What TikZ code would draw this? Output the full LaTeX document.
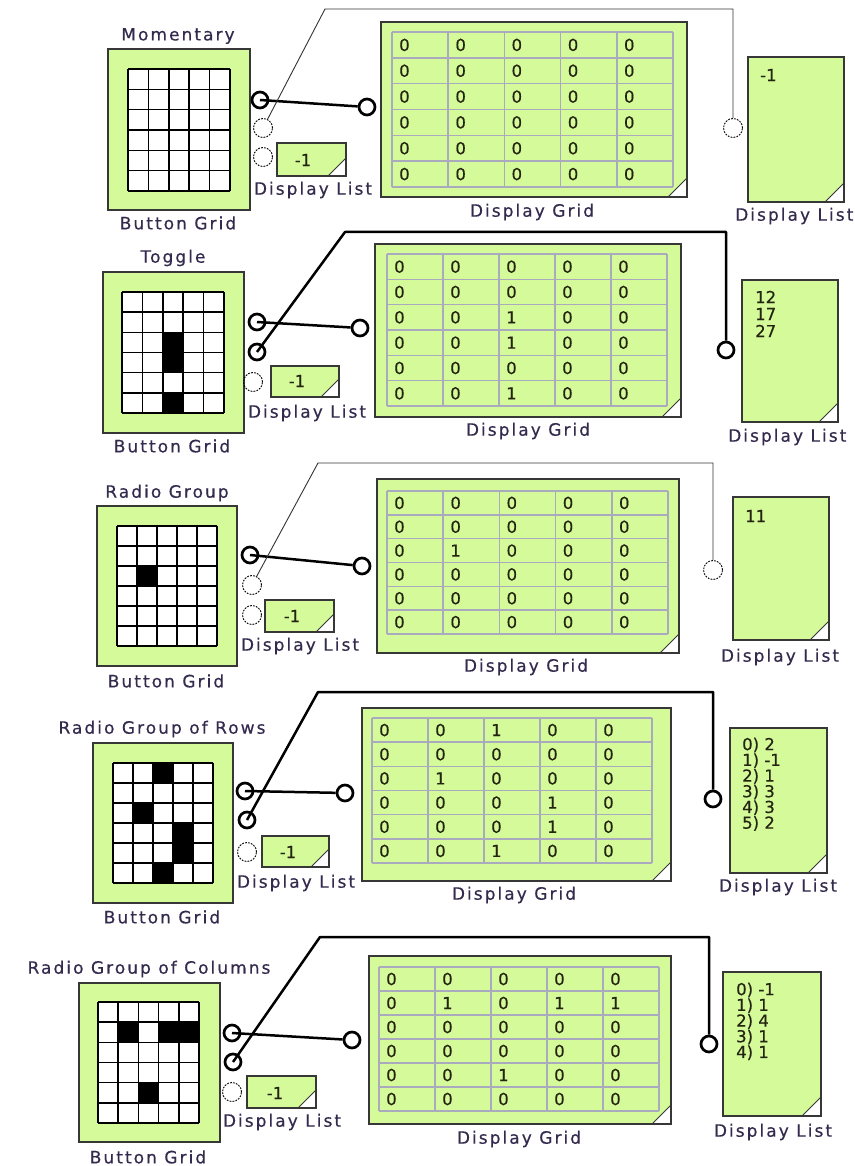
\documentclass[tikz,border=0pt]{standalone}
\usepackage{fontspec}
\newfontfamily\labfont[LetterSpace=12,FakeBold=0.4]{DejaVu Sans}
\newfontfamily\numfont[FakeBold=0.4]{DejaVu Sans}
\definecolor{gfill}{RGB}{212,250,154}
\definecolor{bord}{RGB}{55,55,55}
\definecolor{glc}{RGB}{170,170,190}
\definecolor{labc}{RGB}{52,42,78}
\definecolor{digc}{RGB}{35,35,15}
\newcommand\labsize{\labfont\fontsize{17}{20}\selectfont}
\newcommand\numsize{\numfont\fontsize{16.5}{17}\selectfont}
\tikzset{
 lab/.style={font=\labsize, text=labc, inner sep=0pt},
 digit/.style={font=\numsize, text=digc, inner sep=0pt},
 boxg/.style={fill=gfill, draw=bord, line width=1.6pt},
 portc/.style={circle, draw=black, line width=2.7pt, minimum size=16pt, inner sep=0pt},
 portu/.style={circle, draw=black, line width=0.9pt, dash pattern=on 1.8pt off 1.2pt, minimum size=19pt, inner sep=0pt},
 wirethick/.style={draw=black, line width=2.5pt, line join=round},
 wirethin/.style={draw=black!80, line width=0.9pt},
 glines/.style={draw=glc, line width=1.5pt},
 blines/.style={draw=black, line width=1.6pt},
}
\newcommand\BGrid[4]{%
 \foreach \i in {0,...,5} \draw[blines] ({#1+\i*(#3-#1)/5},#2) -- ({#1+\i*(#3-#1)/5},#4);
 \foreach \j in {0,...,6} \draw[blines] (#1,{#2+\j*(#4-#2)/6}) -- (#3,{#2+\j*(#4-#2)/6});
}
\newcommand\BFill[5]{\foreach \c/\r in {#5} \fill[black] ({#1+\c*(#3-#1)/5},{#2+\r*(#4-#2)/6}) rectangle ({#1+(\c+1)*(#3-#1)/5},{#2+(\r+1)*(#4-#2)/6});}
\newcommand\Note[5]{%
 \fill[gfill] (#1,#2) rectangle (#3,#4);
 \fill[white] ({#3-#5},#4) -- (#3,{#4-#5}) -- (#3,#4) -- cycle;
 \draw[bord, line width=1pt] ({#3-#5},#4) -- (#3,{#4-#5});
 \draw[bord, line width=1.6pt] (#1,#2) rectangle (#3,#4);
}
\newcommand\DGrid[6]{%
 \foreach \i in {0,...,5} \draw[glines] ({#1+\i*(#3-#1)/5},#2) -- ({#1+\i*(#3-#1)/5},#4);
 \foreach \j in {0,...,6} \draw[glines] (#1,{#2+\j*(#4-#2)/6}) -- (#3,{#2+\j*(#4-#2)/6});
 \foreach \row [count=\ri from 0] in {#5} {
   \foreach \v [count=\ci from 0] in \row {
     \node[digit, anchor=west] (#6-\ri-\ci) at ({#1+\ci*(#3-#1)/5+7},{#2+(\ri+0.5)*(#4-#2)/6}) {\v};
   }
 }
}
\begin{document}
\begin{tikzpicture}[x=1pt,y=-1pt]
\useasboundingbox (0,0) rectangle (854,1166);
\fill[white] (0,0) rectangle (854,1166);

% ================= Panel 1 : Momentary =================
\node[lab] (t1) at (178,36) {Momentary};
\draw[boxg] (108,49) rectangle (250,210);
\fill[white] (128,69) rectangle (230,191);
\BGrid{128}{69}{230}{191}
\node[lab] (b1) at (178,223) {Button Grid};
\Note{277}{143}{346}{176}{18}
\node[digit] (s1t) at (303,160) {-1};
\node[lab] (s1l) at (313,190) {Display List};
\Note{381}{22}{687}{197}{19}
\DGrid{392}{32}{673}{187}{{0,0,0,0,0},{0,0,0,0,0},{0,0,0,0,0},{0,0,0,0,0},{0,0,0,0,0},{0,0,0,0,0}}{ga}
\node[lab] (d1l) at (532,212) {Display Grid};
\Note{748}{57}{844}{202}{19}
\node[digit, anchor=west] (r1t) at (760,75) {-1};
\node[lab, anchor=west] (r1l) at (735,216) {Display List};
\node[portc] (p1a) at (260,100) {};
\node[portu] (p1b) at (263,128) {};
\node[portu] (p1c) at (263,157) {};
\node[portc] (g1in) at (367,107) {};
\node[portu] (l1in) at (733,128) {};
\coordinate (k1) at (325,9);
\draw[wirethick] (p1a.center) -- (g1in);
\draw[wirethin] (p1b) -- (k1) -- (k1 -| l1in) -- (l1in);

% ================= Panel 2 : Toggle =================
\node[lab] (t2) at (173,258) {Toggle};
\draw[boxg] (103,272) rectangle (244,433);
\fill[white] (122,292) rectangle (224,413);
\BFill{122}{292}{224}{413}{2/2,2/3,2/5}
\BGrid{122}{292}{224}{413}
\node[lab] (b2) at (172,446) {Button Grid};
\Note{271}{366}{339}{397}{18}
\node[digit] (s2t) at (297,381) {-1};
\node[lab] (s2l) at (307,413) {Display List};
\Note{375}{244}{681}{417}{19}
\DGrid{387}{254}{667}{406}{{0,0,0,0,0},{0,0,0,0,0},{0,0,1,0,0},{0,0,1,0,0},{0,0,0,0,0},{0,0,1,0,0}}{gb}
\node[lab] (d2l) at (528,431) {Display Grid};
\Note{742}{280}{838}{422}{19}
\node[digit, anchor=west] (r2a) at (755,297) {12};
\node[digit, anchor=west] (r2b) at (755,314) {17};
\node[digit, anchor=west] (r2c) at (755,331) {27};
\node[lab, anchor=west] (r2l) at (728,437) {Display List};
\node[portc] (p2a) at (257,322) {};
\node[portc] (p2b) at (257,352) {};
\node[portu] (p2c) at (253,382) {};
\node[portc] (g2in) at (360,328) {};
\node[portc] (l2in) at (726,350) {};
\coordinate (k2) at (345,232);
\draw[wirethick] (p2a.center) -- (g2in);
\draw[wirethick] (p2b.center) -- (k2) -- (k2 -| l2in) -- (l2in);

% ================= Panel 3 : Radio Group =================
\node[lab] (t3) at (167,493) {Radio Group};
\draw[boxg] (97,506) rectangle (237,666);
\fill[white] (117,526) rectangle (217,646);
\BFill{117}{526}{217}{646}{1/2}
\BGrid{117}{526}{217}{646}
\node[lab] (b3) at (166,681) {Button Grid};
\Note{265}{600}{334}{632}{18}
\node[digit] (s3t) at (292,616) {-1};
\node[lab] (s3l) at (300,646) {Display List};
\Note{377}{479}{679}{653}{19}
\DGrid{387}{491}{668}{634}{{0,0,0,0,0},{0,0,0,0,0},{0,1,0,0,0},{0,0,0,0,0},{0,0,0,0,0},{0,0,0,0,0}}{gc}
\node[lab] (d3l) at (526,667) {Display Grid};
\Note{733}{497}{829}{640}{19}
\node[digit, anchor=west] (r3a) at (745,516) {11};
\node[lab] (r3l) at (780,657) {Display List};
\node[portc] (p3a) at (250,555) {};
\node[portu] (p3b) at (252,585) {};
\node[portu] (p3c) at (252,615) {};
\node[portc] (g3in) at (362,566) {};
\node[portu] (l3in) at (713,570) {};
\coordinate (k3) at (318,463);
\draw[wirethick] (p3a.center) -- (g3in);
\draw[wirethin] (p3b) -- (k3) -- (k3 -| l3in) -- (l3in);

% ================= Panel 4 : Radio Group of Rows =================
\node[lab] (t4) at (162,729) {Radio Group of Rows};
\draw[boxg] (93,743) rectangle (233,903);
\fill[white] (113,763) rectangle (213,883);
\BFill{113}{763}{213}{883}{2/0,1/2,3/3,3/4,2/5}
\BGrid{113}{763}{213}{883}
\node[lab] (b4) at (162,917) {Button Grid};
\Note{262}{836}{329}{867}{18}
\node[digit] (s4t) at (288,852) {-1};
\node[lab] (s4l) at (296,883) {Display List};
\Note{362}{708}{671}{881}{19}
\DGrid{372}{718}{652}{863}{{0,0,1,0,0},{0,0,0,0,0},{0,1,0,0,0},{0,0,0,1,0},{0,0,0,1,0},{0,0,1,0,0}}{gd}
\node[lab] (d4l) at (514,895) {Display Grid};
\Note{730}{728}{827}{873}{19}
\foreach \t [count=\k from 0] in {0) 2,1) -1,2) 1,3) 3,4) 3,5) 2}
  \node[digit, anchor=west] (r4-\k) at (742,{745+\k*15.7}) {\t};
\node[lab] (r4l) at (778,887) {Display List};
\node[portc] (p4a) at (245,791) {};
\node[portc] (p4b) at (247,820) {};
\node[portu] (p4c) at (247,852) {};
\node[portc] (g4in) at (345,793) {};
\node[portc] (l4in) at (713,799) {};
\coordinate (k4) at (318,692);
\draw[wirethick] (p4a.center) -- (g4in);
\draw[wirethick] (p4b.center) -- (k4) -- (k4 -| l4in) -- (l4in);

% ================= Panel 5 : Radio Group of Columns =================
\node[lab] (t5) at (149,969) {Radio Group of Columns};
\draw[boxg] (79,983) rectangle (220,1142);
\fill[white] (98,1002) rectangle (199,1123);
\BFill{98}{1002}{199}{1123}{1/1,3/1,4/1,2/4}
\BGrid{98}{1002}{199}{1123}
\node[lab] (b5) at (148,1157) {Button Grid};
\Note{247}{1076}{316}{1108}{18}
\node[digit] (s5t) at (275,1093) {-1};
\node[lab] (s5l) at (282,1122) {Display List};
\Note{369}{956}{671}{1124}{19}
\DGrid{379}{967}{659}{1111}{{0,0,0,0,0},{0,1,0,1,1},{0,0,0,0,0},{0,0,0,0,0},{0,0,1,0,0},{0,0,0,0,0}}{ge}
\node[lab] (d5l) at (519,1139) {Display Grid};
\Note{723}{972}{821}{1116}{19}
\foreach \t [count=\k from 0] in {0) -1,1) 1,2) 4,3) 1,4) 1}
  \node[digit, anchor=west] (r5-\k) at (736,{990+\k*15.7}) {\t};
\node[lab] (r5l) at (773,1132) {Display List};
\node[portc] (p5a) at (232,1033) {};
\node[portc] (p5b) at (233,1062) {};
\node[portu] (p5c) at (232,1092) {};
\node[portc] (g5in) at (352,1040) {};
\node[portc] (l5in) at (709,1044) {};
\coordinate (k5) at (320,937);
\draw[wirethick] (p5a.center) -- (g5in);
\draw[wirethick] (p5b.center) -- (k5) -- (k5 -| l5in) -- (l5in);
\end{tikzpicture}
\end{document}
